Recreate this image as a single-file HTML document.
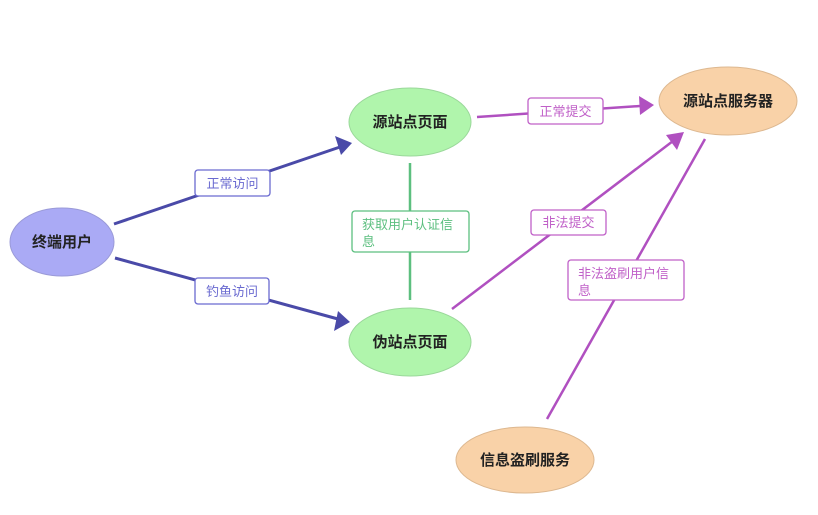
<!DOCTYPE html>
<html><head><meta charset="utf-8"><style>
html,body{margin:0;padding:0;background:#fff;width:818px;height:515px;overflow:hidden}
svg text{font-family:"Liberation Sans","Noto Sans CJK SC",sans-serif}
</style></head><body>
<svg width="818" height="515" viewBox="0 0 818 515" xmlns="http://www.w3.org/2000/svg">
<g stroke="#4a4aa8" stroke-width="3" fill="none">
<line x1="114" y1="224" x2="340" y2="147"/>
<line x1="115" y1="258" x2="338" y2="319"/>
</g>
<polygon points="352,143 335,136 341,155" fill="#4a4aa8"/>
<polygon points="350,322 338,311 334,331" fill="#4a4aa8"/>
<line x1="410" y1="163" x2="410" y2="300" stroke="#5cbf7f" stroke-width="2.5"/>
<g stroke="#b050c0" stroke-width="2.5" fill="none">
<line x1="477" y1="117" x2="640" y2="106"/>
<line x1="452" y1="309" x2="673" y2="141"/>
<line x1="547" y1="419" x2="705" y2="139"/>
</g>
<polygon points="654,105 639,96 640,115" fill="#b050c0"/>
<polygon points="684,132 666,135 677,150" fill="#b050c0"/>
<ellipse cx="62" cy="242" rx="52" ry="34" fill="#aaaaf5" stroke="#9a9ad8"/>
<ellipse cx="410" cy="122" rx="61" ry="34" fill="#b0f5ac" stroke="#9ad89a"/>
<ellipse cx="410" cy="342" rx="61" ry="34" fill="#b0f5ac" stroke="#9ad89a"/>
<ellipse cx="728" cy="101" rx="69" ry="34" fill="#f9d2a8" stroke="#ddb890"/>
<ellipse cx="525" cy="460" rx="69" ry="33" fill="#f9d2a8" stroke="#ddb890"/>
<g font-size="15" fill="#222" text-anchor="middle" font-weight="bold">
<text x="62" y="247">终端用户</text>
<text x="410" y="127">源站点页面</text>
<text x="410" y="347">伪站点页面</text>
<text x="728" y="106">源站点服务器</text>
<text x="525" y="465">信息盗刷服务</text>
</g>
<g font-size="13">
<rect x="195" y="170" width="75" height="26" rx="3" fill="#fff" stroke="#6a6ad0" stroke-width="1.3"/>
<text x="232.5" y="188" text-anchor="middle" fill="#6a6ad0">正常访问</text>
<rect x="195" y="278" width="74" height="26" rx="3" fill="#fff" stroke="#6a6ad0" stroke-width="1.3"/>
<text x="232" y="296" text-anchor="middle" fill="#6a6ad0">钓鱼访问</text>
<rect x="352" y="211" width="117" height="41" rx="3" fill="#fff" stroke="#5cbf7f" stroke-width="1.3"/>
<text x="362" y="229" fill="#5cbf7f">获取用户认证信</text>
<text x="362" y="246" fill="#5cbf7f">息</text>
<rect x="528" y="98" width="75" height="26" rx="3" fill="#fff" stroke="#c060c8" stroke-width="1.3"/>
<text x="565.5" y="116" text-anchor="middle" fill="#c060c8">正常提交</text>
<rect x="531" y="210" width="75" height="25" rx="3" fill="#fff" stroke="#c060c8" stroke-width="1.3"/>
<text x="568.5" y="227" text-anchor="middle" fill="#c060c8">非法提交</text>
<rect x="568" y="260" width="116" height="40" rx="3" fill="#fff" stroke="#c060c8" stroke-width="1.3"/>
<text x="578" y="278" fill="#c060c8">非法盗刷用户信</text>
<text x="578" y="295" fill="#c060c8">息</text>
</g>
</svg>
</body></html>
